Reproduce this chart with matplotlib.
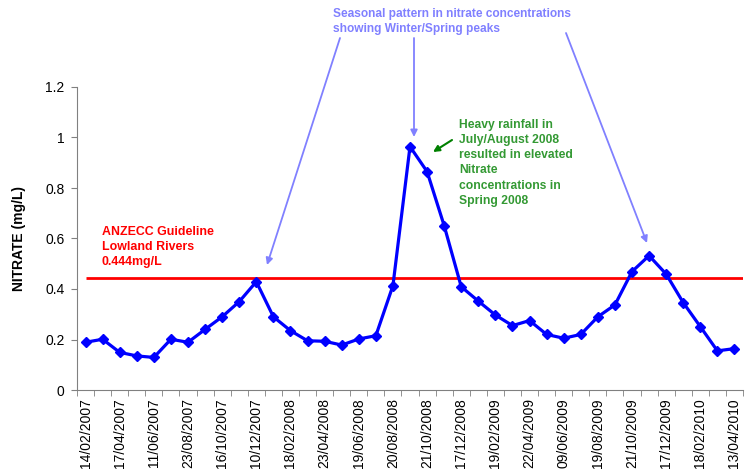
import matplotlib
matplotlib.use('Agg')
import matplotlib.pyplot as plt

# sample dates (only every second one is labelled on the axis)
tick_dates = ['14/02/2007', '17/04/2007', '11/06/2007', '23/08/2007', '16/10/2007',
              '10/12/2007', '18/02/2008', '23/04/2008', '19/06/2008', '20/08/2008',
              '21/10/2008', '17/12/2008', '19/02/2009', '22/04/2009', '09/06/2009',
              '19/08/2009', '21/10/2009', '17/12/2009', '18/02/2010', '13/04/2010']

nitrate = [0.189, 0.201, 0.149, 0.135, 0.129, 0.201, 0.189, 0.240, 0.290, 0.350,
           0.429, 0.290, 0.235, 0.195, 0.193, 0.178, 0.202, 0.215, 0.413, 0.964,
           0.865, 0.651, 0.409, 0.352, 0.297, 0.255, 0.275, 0.220, 0.205, 0.220,
           0.290, 0.337, 0.469, 0.532, 0.459, 0.346, 0.251, 0.155, 0.164]

guideline = 0.444

plt.rcParams['font.family'] = ['Liberation Sans', 'DejaVu Sans']

fig = plt.figure(figsize=(7.45, 4.73), dpi=100)
ax = fig.add_axes([77/745, 1-390/473, 666/745, 303/473])

n = len(nitrate)
xs = list(range(n))
ax.hlines(guideline, 0, n - 0.5, color='#FF0000', lw=2, zorder=2)
ax.plot(xs, nitrate, color='#0000FF', lw=2.3, marker='D', markersize=5.5, zorder=3)

ax.set_xlim(-0.5, n - 0.5)
ax.set_ylim(0, 1.2)
ax.set_yticks([0, 0.2, 0.4, 0.6, 0.8, 1, 1.2])
ax.set_yticklabels(['0', '0.2', '0.4', '0.6', '0.8', '1', '1.2'], fontsize=10)

ax.set_xticks(xs[::2])
ax.set_xticklabels(tick_dates, rotation=90, fontsize=10)
ax.set_xticks([i - 0.5 for i in range(n + 1)], minor=True)
ax.tick_params(axis='x', which='major', length=0, pad=6)
ax.tick_params(axis='x', which='minor', length=4, color='#808080')
ax.tick_params(axis='y', length=4, color='#808080', pad=5)

for s in ['top', 'right']:
    ax.spines[s].set_visible(False)
for s in ['left', 'bottom']:
    ax.spines[s].set_color('#808080')

ax.set_ylabel('NITRATE (mg/L)', fontsize=10, fontweight='bold', labelpad=14)

H = 473
blue = '#8080FF'
fig.text(333/745, 1 - 8/H, 'Seasonal pattern in nitrate concentrations\nshowing Winter/Spring peaks',
         color=blue, fontsize=8.6, fontweight='bold', va='top', ha='left', linespacing=1.35,
         family=['Liberation Sans Narrow', 'Liberation Sans'])

for start, tip in [((340, 38), (267, 265)), ((414, 38), (414, 137)), ((566, 33), (647, 243))]:
    ax.annotate('', xy=(tip[0], H - tip[1]), xycoords='figure pixels',
                xytext=(start[0], H - start[1]), textcoords='figure pixels',
                arrowprops=dict(arrowstyle='-|>', color=blue, lw=1.3,
                                mutation_scale=10, shrinkA=0, shrinkB=0))

green = '#339933'
fig.text(459/745, 1 - 119/H,
         'Heavy rainfall in\nJuly/August 2008\nresulted in elevated\nNitrate\nconcentrations in\nSpring 2008',
         color=green, fontsize=8.7, fontweight='bold', va='top', ha='left', linespacing=1.35)
ax.annotate('', xy=(433, H - 152), xycoords='figure pixels',
            xytext=(452, H - 140), textcoords='figure pixels',
            arrowprops=dict(arrowstyle='-|>', color='#008000', lw=1.5,
                            mutation_scale=9, shrinkA=0, shrinkB=0))

fig.text(102/745, 1 - 226/H, 'ANZECC Guideline\nLowland Rivers\n0.444mg/L',
         color='#FF0000', fontsize=8.9, fontweight='bold', va='top', ha='left', linespacing=1.35)

fig.savefig('out.png', dpi=100)
